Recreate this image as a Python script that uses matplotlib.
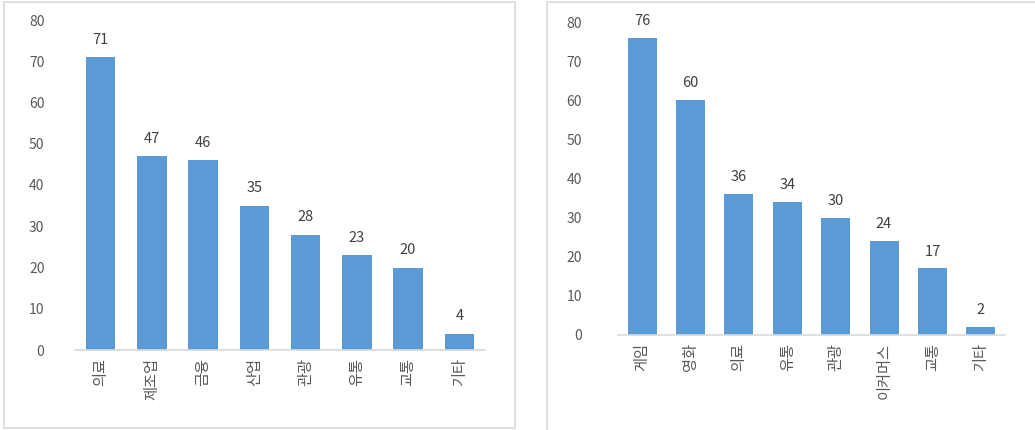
import matplotlib.pyplot as plt
from matplotlib.patches import Rectangle

plt.rcParams['font.family'] = ['Noto Sans CJK KR', 'DejaVu Sans']

# 왼쪽 차트 데이터
left_labels = ['의료', '제조업', '금융', '산업', '관광', '유통', '교통', '기타']
left_values = [71, 47, 46, 35, 28, 23, 20, 4]

# 오른쪽 차트 데이터
right_labels = ['게임', '영화', '의료', '유통', '관광', '이커머스', '교통', '기타']
right_values = [76, 60, 36, 34, 30, 24, 17, 2]

yticks = [0, 10, 20, 30, 40, 50, 60, 70, 80]

W, H = 1035, 430
fig = plt.figure(figsize=(W / 100, H / 100), dpi=100)

bar_color = '#5B9BD5'
tick_color = '#595959'
frame_color = '#D9D9D9'


def px_box(x0, y0, x1, y1):
    # 픽셀 좌표를 figure 비율로 변환
    return [x0 / W, 1 - y1 / H, (x1 - x0) / W, (y1 - y0) / H]


# 차트 영역 테두리
fig.patches.append(Rectangle((4 / W, 1 - 428 / H), 511 / W, 426 / H, transform=fig.transFigure,
                             fill=False, edgecolor=frame_color, linewidth=1.2))
fig.patches.append(Rectangle((547 / W, -0.01), 500 / W, 1 - 2 / H + 0.01, transform=fig.transFigure,
                             fill=False, edgecolor=frame_color, linewidth=1.2))


def draw(ax, labels, values, width):
    x = range(len(values))
    ax.bar(x, values, width=width, color=bar_color, zorder=2)
    for i, v in zip(x, values):
        ax.text(i, v + 2.5, str(v), ha='center', va='bottom', fontsize=10.5, color='#404040')
    ax.set_xlim(-0.5, len(values) - 0.5)
    ax.set_ylim(0, 80)
    ax.set_yticks(yticks)
    ax.set_xticks(list(x))
    ax.set_xticklabels(labels, rotation=90, fontsize=11, color=tick_color)
    ax.tick_params(axis='y', length=0, labelsize=10, labelcolor=tick_color, pad=22)
    ax.tick_params(axis='x', length=0, pad=6)
    for s in ['top', 'right', 'left']:
        ax.spines[s].set_visible(False)
    ax.spines['bottom'].set_color(frame_color)
    ax.spines['bottom'].set_linewidth(1.2)


ax1 = fig.add_axes(px_box(75, 20, 485, 350))
draw(ax1, left_labels, left_values, 0.58)

ax2 = fig.add_axes(px_box(618, 22, 1005, 335))
draw(ax2, right_labels, right_values, 0.6)
ax2.tick_params(axis='y', pad=26)

fig.savefig('out.png', dpi=100)
